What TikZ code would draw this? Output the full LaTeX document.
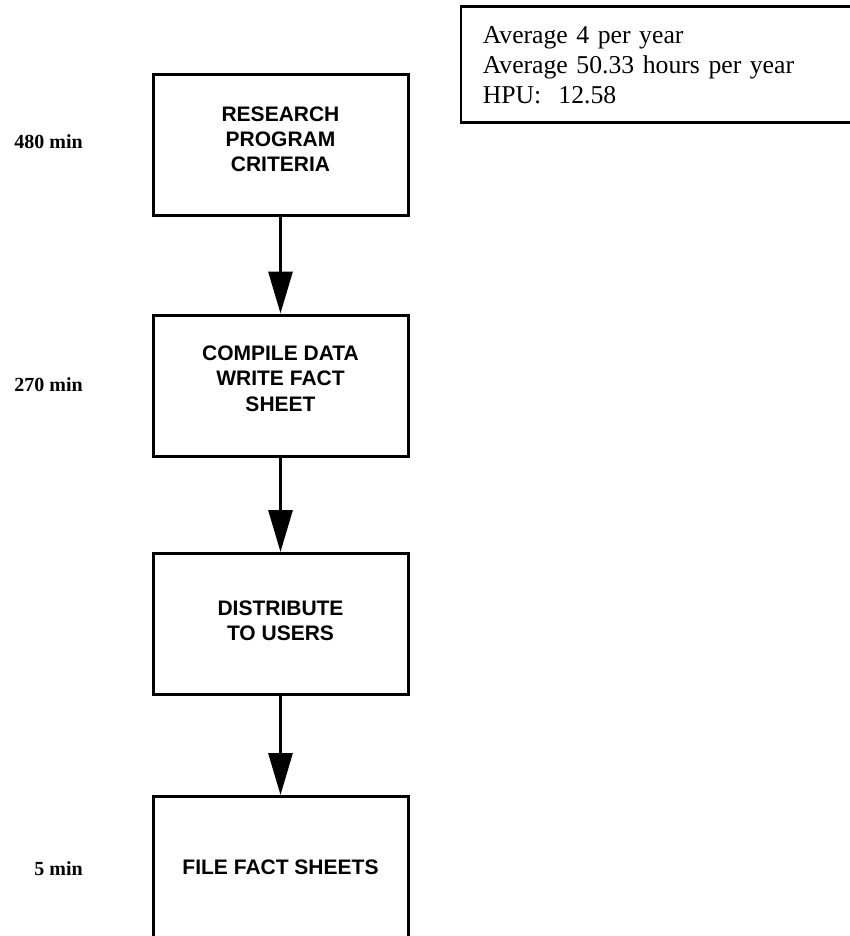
\documentclass[tikz,border=0pt]{standalone}
\usepackage{fontspec}
\setmainfont{Liberation Serif}
\newfontfamily\boxfont{Liberation Sans}
\usetikzlibrary{arrows.meta}
\begin{document}
\begin{tikzpicture}[x=1pt,y=-1pt,
  stepbox/.style={draw, line width=3pt, inner sep=0pt,
    minimum width=255pt, minimum height=141pt, align=center,
    font=\boxfont\bfseries\fontsize{21}{25.3}\selectfont},
  % extra depth under the text lifts it above the box centre
  lift/.style={text depth=#1},
  timelabel/.style={anchor=east, inner sep=0pt,
    font=\bfseries\fontsize{20}{24}\selectfont},
  infobox/.style={draw, line width=2.5pt, anchor=north west,
    inner xsep=22pt, inner ysep=0pt, text width=360pt,
    minimum height=116pt, align=left,
    font=\fontsize{25.7}{30}\selectfont},
  flow/.style={line width=3pt, -{Triangle[length=42pt,width=24pt]}}]
\useasboundingbox (0,0) rectangle (850,936);
\clip (0,0) rectangle (850,936);

% summary box (runs off the right edge)
\node[infobox] (info) at (459.5,5.5)
  {Average 4 per year\\Average 50.33 hours per year\\HPU:\ \ 12.58};

% process steps
\node[stepbox, lift=12pt] (s1) at (280.5,145)   {RESEARCH\\PROGRAM\\CRITERIA};
\node[stepbox, lift=14pt] (s2) at (280.5,385.5) {COMPILE DATA\\WRITE FACT\\SHEET};
\node[stepbox, lift=6pt]  (s3) at (280.5,624)   {DISTRIBUTE\\TO USERS};
\node[stepbox] (s4) at (280.5,867) {FILE FACT SHEETS};

% time per step
\node[timelabel] (t1) at (83,142) {480 min};
\node[timelabel] (t2) at (83,385) {270 min};
\node[timelabel] (t4) at (83,869) {5 min};

% flow arrows
\draw[flow] (s1.south) -- (s2.north);
\draw[flow] (s2.south) -- (s3.north);
\draw[flow] (s3.south) -- (s4.north);
\end{tikzpicture}
\end{document}
